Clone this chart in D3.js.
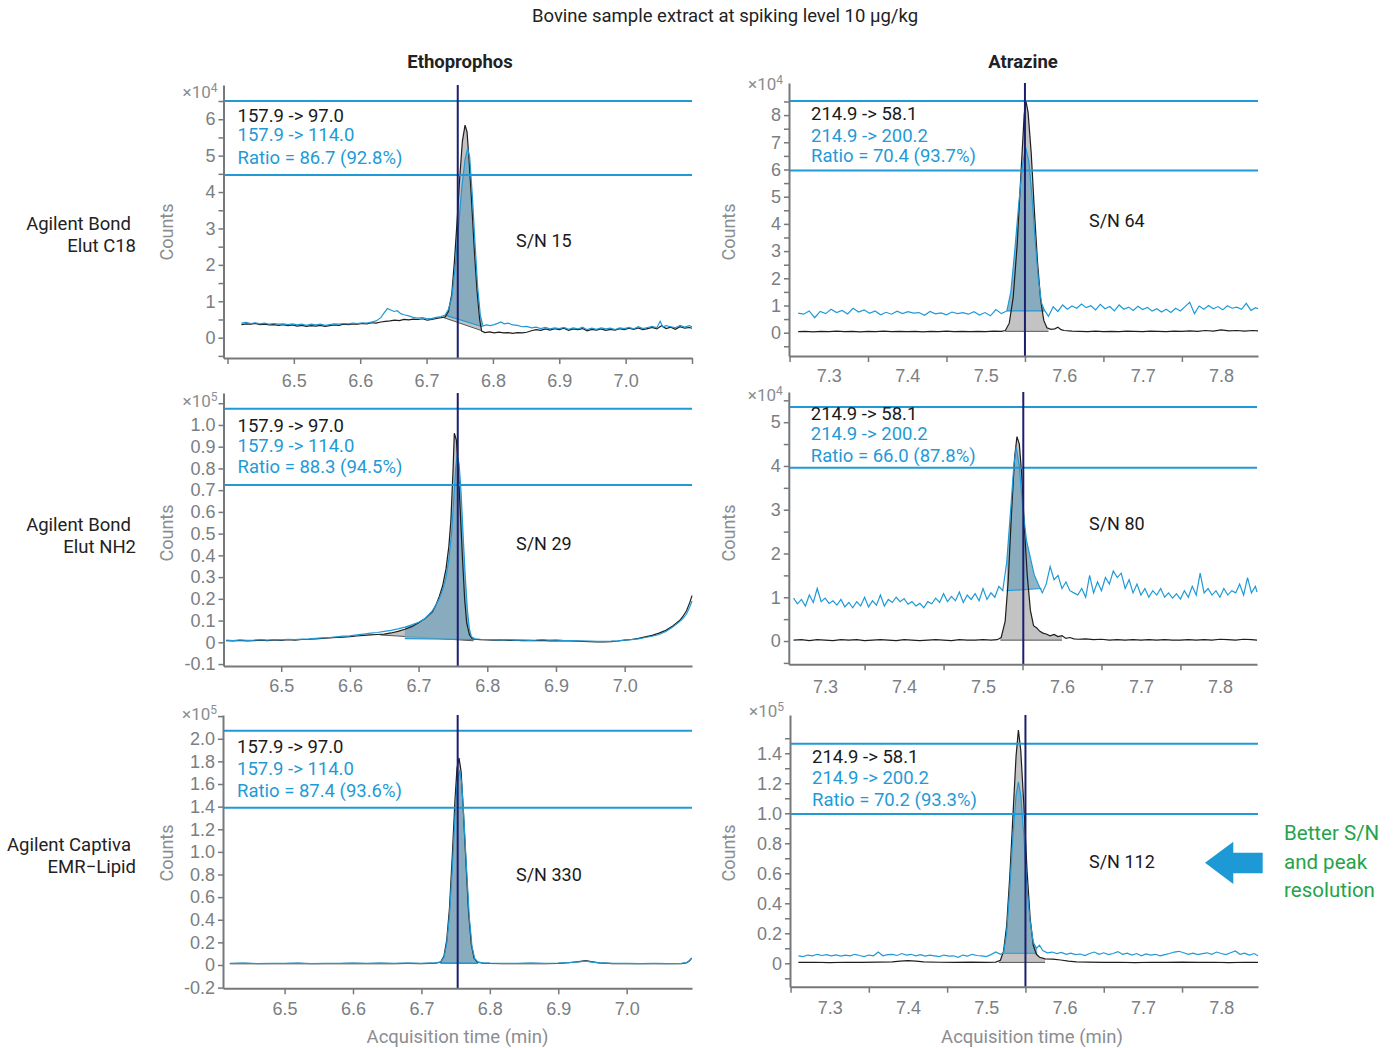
<!DOCTYPE html>
<html>
<head>
<meta charset="utf-8">
<script src="https://cdn.jsdelivr.net/npm/d3@7"></script>
<style>
  body { margin: 0; background: #fff; }
  svg { font-family: Roboto, "Noto Sans", sans-serif; }
  .tick text { fill: #7b7e82; font-size: 18px; }
</style>
</head>
<body>
<svg id="chart" width="1393" height="1048"></svg>
<script>
// ---------- text ----------
const chartTitle = "Bovine sample extract at spiking level 10 \u00b5g/kg";
const compounds = ["Ethoprophos", "Atrazine"];
const rowLabels = [["Agilent Bond", "Elut C18"], ["Agilent Bond", "Elut NH2"], ["Agilent Captiva", "EMR\u2212Lipid"]];
const ethoTransitions = ["157.9 -> 97.0", "157.9 -> 114.0"];
const atraTransitions = ["214.9 -> 58.1", "214.9 -> 200.2"];
const ratioLabels = ["Ratio = 86.7 (92.8%)", "Ratio = 70.4 (93.7%)", "Ratio = 88.3 (94.5%)",
                     "Ratio = 66.0 (87.8%)", "Ratio = 87.4 (93.6%)", "Ratio = 70.2 (93.3%)"];
const snLabels = ["S/N 15", "S/N 64", "S/N 29", "S/N 80", "S/N 330", "S/N 112"];
const exponents = [4, 4, 5, 4, 5, 5];
const noteLines = ["Better S/N", "and peak", "resolution"];

// ---------- ticks ----------
const ethoXLabels = [6.5, 6.6, 6.7, 6.8, 6.9, 7.0];
const ethoXMarks = [6.4, 6.5, 6.6, 6.7, 6.8, 6.9, 7.0, 7.1];
const atraXLabels = [7.3, 7.4, 7.5, 7.6, 7.7, 7.8];
const atraXMarks = [7.25, 7.35, 7.45, 7.55, 7.65, 7.75, 7.85];
const yMajor = [
  [0, 1, 2, 3, 4, 5, 6],
  [0, 1, 2, 3, 4, 5, 6, 7, 8],
  [-0.1, 0, 0.1, 0.2, 0.3, 0.4, 0.5, 0.6, 0.7, 0.8, 0.9, 1.0],
  [0, 1, 2, 3, 4, 5],
  [-0.2, 0, 0.2, 0.4, 0.6, 0.8, 1.0, 1.2, 1.4, 1.6, 1.8, 2.0],
  [0, 0.2, 0.4, 0.6, 0.8, 1.0, 1.2, 1.4]
];
const yMinor = [
  [-0.5, 0.5, 1.5, 2.5, 3.5, 4.5, 5.5, 6.5],
  [-0.5, 0.5, 1.5, 2.5, 3.5, 4.5, 5.5, 6.5, 7.5, 8.5],
  [1.1],
  [-0.5, 0.5, 1.5, 2.5, 3.5, 4.5, 5.5],
  [2.2],
  [-0.1, 0.1, 0.3, 0.5, 0.7, 0.9, 1.1, 1.3, 1.5]
];

// ---------- retention times and label band levels ----------
const retentionTimes = [6.747, 7.55, 6.757, 7.551, 6.753, 7.55];
const bandLevels = [[6.5, 4.47], [8.52, 5.96], [1.074, 0.724], [5.35, 3.96], [2.07, 1.39], [1.464, 0.995]];

// ---------- traces: [time (min), counts x10^n] ----------
// Ethoprophos / Bond Elut C18
const ethoC18Quant = [[6.421,0.36],[6.428,0.38],[6.435,0.37],[6.442,0.39],[6.449,0.36],[6.456,0.37],[6.463,0.35],[6.47,0.36],[6.477,0.34],[6.484,0.36],[6.491,0.33],[6.498,0.35],[6.505,0.32],[6.512,0.34],[6.519,0.31],[6.526,0.33],[6.533,0.32],[6.54,0.34],[6.547,0.31],[6.554,0.33],[6.561,0.35],[6.568,0.34],[6.575,0.37],[6.582,0.36],[6.589,0.38],[6.596,0.37],[6.603,0.39],[6.61,0.38],[6.617,0.41],[6.624,0.4],[6.631,0.43],[6.638,0.45],[6.645,0.46],[6.652,0.48],[6.659,0.47],[6.666,0.5],[6.673,0.49],[6.68,0.51],[6.687,0.5],[6.694,0.52],[6.701,0.48],[6.708,0.5],[6.715,0.53],[6.722,0.55],[6.728,0.57],[6.733,0.72],[6.738,1.2],[6.742,2.1],[6.746,3.2],[6.75,4.4],[6.754,5.4],[6.758,5.84],[6.761,5.65],[6.764,4.9],[6.768,3.7],[6.772,2.4],[6.776,1.3],[6.78,0.5],[6.783,0.18],[6.788,0.14],[6.795,0.16],[6.802,0.13],[6.809,0.15],[6.816,0.13],[6.823,0.14],[6.83,0.12],[6.837,0.14],[6.844,0.13],[6.851,0.15],[6.858,0.19],[6.865,0.22],[6.872,0.2],[6.879,0.24],[6.886,0.21],[6.893,0.25],[6.9,0.22],[6.907,0.26],[6.914,0.2],[6.921,0.24],[6.928,0.22],[6.935,0.25],[6.942,0.19],[6.949,0.23],[6.956,0.21],[6.963,0.24],[6.97,0.2],[6.977,0.23],[6.984,0.21],[6.991,0.25],[6.998,0.22],[7.005,0.26],[7.012,0.23],[7.019,0.27],[7.026,0.22],[7.033,0.25],[7.04,0.28],[7.047,0.24],[7.054,0.33],[7.061,0.25],[7.068,0.29],[7.075,0.23],[7.082,0.3],[7.089,0.26],[7.096,0.28],[7.1,0.26]];
const ethoC18Qual = [[6.421,0.4],[6.428,0.42],[6.435,0.39],[6.442,0.41],[6.449,0.38],[6.456,0.4],[6.463,0.37],[6.47,0.39],[6.477,0.37],[6.484,0.38],[6.491,0.36],[6.498,0.38],[6.505,0.35],[6.512,0.37],[6.519,0.34],[6.526,0.37],[6.533,0.35],[6.54,0.37],[6.547,0.34],[6.554,0.36],[6.561,0.38],[6.568,0.37],[6.575,0.39],[6.582,0.38],[6.589,0.4],[6.596,0.39],[6.603,0.41],[6.61,0.4],[6.617,0.43],[6.624,0.46],[6.631,0.55],[6.636,0.68],[6.641,0.8],[6.646,0.76],[6.651,0.72],[6.656,0.74],[6.661,0.66],[6.666,0.63],[6.673,0.6],[6.68,0.56],[6.687,0.54],[6.694,0.55],[6.701,0.52],[6.708,0.53],[6.715,0.56],[6.722,0.58],[6.728,0.62],[6.733,0.78],[6.738,1.1],[6.743,1.9],[6.748,3.0],[6.753,4.1],[6.758,4.9],[6.762,5.2],[6.765,4.95],[6.769,3.9],[6.773,2.6],[6.777,1.4],[6.781,0.62],[6.785,0.32],[6.79,0.35],[6.796,0.33],[6.802,0.36],[6.808,0.4],[6.812,0.43],[6.817,0.38],[6.823,0.4],[6.83,0.35],[6.837,0.34],[6.844,0.3],[6.851,0.31],[6.858,0.27],[6.865,0.29],[6.872,0.25],[6.879,0.28],[6.886,0.24],[6.893,0.27],[6.9,0.25],[6.907,0.28],[6.914,0.23],[6.921,0.27],[6.928,0.24],[6.935,0.29],[6.942,0.22],[6.949,0.26],[6.956,0.23],[6.963,0.27],[6.97,0.24],[6.977,0.26],[6.984,0.22],[6.991,0.27],[6.998,0.25],[7.005,0.28],[7.012,0.24],[7.019,0.3],[7.026,0.25],[7.033,0.28],[7.04,0.31],[7.047,0.27],[7.052,0.45],[7.056,0.3],[7.061,0.33],[7.068,0.3],[7.075,0.27],[7.082,0.34],[7.089,0.29],[7.096,0.33],[7.1,0.3]];
const ethoC18QuantBase = [[6.726, 0.55], [6.782, 0.2]];
const ethoC18QualBase = [[6.728, 0.62], [6.784, 0.3]];

// Atrazine / Bond Elut C18
const atraC18Quant = [[7.261,0.04],[7.27,0.05],[7.28,0.03],[7.29,0.05],[7.3,0.04],[7.31,0.06],[7.32,0.04],[7.33,0.05],[7.34,0.03],[7.35,0.05],[7.36,0.04],[7.37,0.06],[7.38,0.04],[7.39,0.05],[7.4,0.04],[7.41,0.05],[7.42,0.03],[7.43,0.05],[7.44,0.04],[7.45,0.06],[7.46,0.04],[7.47,0.05],[7.48,0.04],[7.49,0.05],[7.5,0.04],[7.51,0.06],[7.52,0.05],[7.525,0.08],[7.53,0.35],[7.535,1.3],[7.54,3.2],[7.545,5.9],[7.549,8.0],[7.551,8.55],[7.554,8.1],[7.558,6.6],[7.562,4.5],[7.566,2.6],[7.57,1.2],[7.574,0.45],[7.578,0.18],[7.583,0.12],[7.588,0.14],[7.592,0.2],[7.596,0.11],[7.6,0.08],[7.61,0.06],[7.62,0.05],[7.63,0.04],[7.64,0.06],[7.65,0.04],[7.66,0.05],[7.67,0.04],[7.68,0.06],[7.69,0.05],[7.7,0.04],[7.71,0.06],[7.72,0.05],[7.73,0.04],[7.74,0.06],[7.75,0.05],[7.76,0.07],[7.77,0.05],[7.78,0.08],[7.79,0.06],[7.8,0.1],[7.81,0.07],[7.82,0.08],[7.83,0.06],[7.84,0.08],[7.847,0.07]];
const atraC18Qual = [[7.261,0.72],[7.268,0.68],[7.275,0.8],[7.282,0.55],[7.289,0.78],[7.296,0.7],[7.303,0.86],[7.31,0.74],[7.317,0.82],[7.324,0.69],[7.331,0.9],[7.338,0.76],[7.345,0.84],[7.352,0.71],[7.359,0.8],[7.366,0.66],[7.373,0.75],[7.38,0.68],[7.387,0.79],[7.394,0.7],[7.401,0.77],[7.408,0.72],[7.415,0.74],[7.422,0.64],[7.429,0.78],[7.436,0.69],[7.443,0.73],[7.45,0.66],[7.457,0.76],[7.464,0.7],[7.471,0.74],[7.478,0.68],[7.485,0.77],[7.492,0.65],[7.499,0.74],[7.506,0.62],[7.513,0.85],[7.52,0.7],[7.527,0.8],[7.532,1.5],[7.537,3.0],[7.542,4.7],[7.547,6.2],[7.551,6.8],[7.555,6.3],[7.559,5.0],[7.563,3.4],[7.567,2.0],[7.571,1.1],[7.575,0.82],[7.58,0.6],[7.586,0.95],[7.592,0.78],[7.598,1.02],[7.604,0.86],[7.61,0.98],[7.616,0.9],[7.622,1.05],[7.628,0.92],[7.634,0.99],[7.64,0.84],[7.646,1.04],[7.652,0.88],[7.658,0.96],[7.664,0.8],[7.67,1.02],[7.676,0.86],[7.682,0.94],[7.688,0.82],[7.694,0.97],[7.7,0.85],[7.706,0.93],[7.712,0.8],[7.718,0.88],[7.724,0.76],[7.73,0.86],[7.736,0.74],[7.742,0.9],[7.748,0.8],[7.754,0.96],[7.76,1.12],[7.766,0.7],[7.772,0.98],[7.778,0.86],[7.784,1.0],[7.79,0.88],[7.796,0.96],[7.802,0.84],[7.808,0.99],[7.814,0.9],[7.82,0.94],[7.826,0.86],[7.832,1.08],[7.838,0.82],[7.844,0.92],[7.847,0.88]];
const atraC18QuantBase = [[7.525, 0.05], [7.58, 0.05]];
const atraC18QualBase = [[7.527, 0.8], [7.575, 0.8]];

// Ethoprophos / Bond Elut NH2
const ethoNH2Quant = [[6.42,0.008],[6.43,0.006],[6.44,0.009],[6.45,0.007],[6.46,0.008],[6.47,0.01],[6.48,0.008],[6.49,0.011],[6.5,0.009],[6.51,0.012],[6.52,0.01],[6.53,0.013],[6.54,0.014],[6.55,0.016],[6.56,0.018],[6.57,0.02],[6.58,0.022],[6.59,0.024],[6.6,0.026],[6.61,0.029],[6.62,0.032],[6.63,0.034],[6.64,0.036],[6.65,0.038],[6.66,0.043],[6.67,0.05],[6.68,0.06],[6.69,0.072],[6.7,0.09],[6.705,0.1],[6.71,0.11],[6.715,0.125],[6.72,0.14],[6.725,0.17],[6.73,0.21],[6.735,0.26],[6.74,0.34],[6.744,0.44],[6.747,0.56],[6.75,0.78],[6.752,0.962],[6.755,0.93],[6.758,0.78],[6.761,0.58],[6.764,0.38],[6.767,0.2],[6.77,0.09],[6.774,0.035],[6.778,0.016],[6.785,0.013],[6.79,0.012],[6.8,0.011],[6.81,0.01],[6.82,0.011],[6.83,0.009],[6.84,0.01],[6.85,0.008],[6.86,0.009],[6.87,0.008],[6.88,0.009],[6.89,0.007],[6.9,0.008],[6.91,0.006],[6.92,0.006],[6.93,0.005],[6.94,0.004],[6.95,0.003],[6.96,0.002],[6.97,0.002],[6.98,0.003],[6.99,0.006],[7.0,0.01],[7.01,0.013],[7.02,0.018],[7.03,0.025],[7.04,0.032],[7.05,0.042],[7.06,0.055],[7.07,0.075],[7.08,0.1],[7.085,0.12],[7.09,0.145],[7.095,0.185],[7.098,0.215]];
const ethoNH2Qual = [[6.42,0.01],[6.43,0.008],[6.44,0.011],[6.45,0.009],[6.46,0.01],[6.47,0.012],[6.48,0.01],[6.49,0.013],[6.5,0.011],[6.51,0.014],[6.52,0.012],[6.53,0.015],[6.54,0.016],[6.55,0.018],[6.56,0.02],[6.57,0.022],[6.58,0.025],[6.59,0.028],[6.6,0.03],[6.61,0.034],[6.62,0.038],[6.63,0.042],[6.64,0.045],[6.65,0.05],[6.66,0.055],[6.67,0.062],[6.68,0.07],[6.69,0.08],[6.7,0.092],[6.705,0.1],[6.71,0.112],[6.715,0.128],[6.72,0.145],[6.725,0.17],[6.73,0.2],[6.735,0.24],[6.74,0.3],[6.744,0.38],[6.748,0.5],[6.751,0.65],[6.754,0.8],[6.756,0.862],[6.759,0.82],[6.762,0.68],[6.765,0.48],[6.768,0.3],[6.771,0.15],[6.774,0.06],[6.777,0.025],[6.782,0.016],[6.79,0.014],[6.8,0.013],[6.81,0.012],[6.82,0.011],[6.83,0.012],[6.84,0.01],[6.85,0.011],[6.86,0.009],[6.87,0.01],[6.88,0.012],[6.89,0.01],[6.9,0.011],[6.91,0.009],[6.92,0.008],[6.93,0.007],[6.94,0.006],[6.95,0.005],[6.96,0.004],[6.97,0.004],[6.98,0.005],[6.99,0.007],[7.0,0.01],[7.01,0.012],[7.02,0.016],[7.03,0.022],[7.04,0.028],[7.05,0.036],[7.06,0.05],[7.07,0.07],[7.08,0.095],[7.085,0.11],[7.09,0.13],[7.095,0.165],[7.098,0.19]];
const ethoNH2QuantBase = [[6.644, 0.034], [6.78, 0.007]];
const ethoNH2QualBase = [[6.68, 0.017], [6.777, 0.013]];

// Atrazine / Bond Elut NH2
const atraNH2Quant = [[7.26,0.02],[7.27,0.03],[7.28,0.01],[7.29,0.03],[7.3,0.02],[7.31,0.01],[7.32,0.03],[7.33,0.02],[7.34,0.03],[7.35,0.01],[7.36,0.02],[7.37,0.03],[7.38,0.02],[7.39,0.01],[7.4,0.03],[7.41,0.02],[7.42,0.01],[7.43,0.02],[7.44,0.03],[7.45,0.02],[7.46,0.01],[7.47,0.03],[7.48,0.02],[7.49,0.02],[7.5,0.03],[7.51,0.02],[7.518,0.03],[7.523,0.08],[7.528,0.45],[7.532,1.4],[7.536,2.9],[7.54,4.2],[7.543,4.67],[7.546,4.5],[7.549,3.8],[7.552,2.7],[7.556,1.5],[7.56,0.7],[7.564,0.35],[7.568,0.3],[7.572,0.22],[7.576,0.18],[7.58,0.16],[7.585,0.12],[7.59,0.15],[7.595,0.1],[7.6,0.12],[7.605,0.06],[7.61,0.08],[7.615,0.05],[7.62,0.04],[7.63,0.05],[7.64,0.03],[7.65,0.04],[7.66,0.02],[7.67,0.03],[7.68,0.02],[7.69,0.03],[7.7,0.02],[7.71,0.03],[7.72,0.02],[7.73,0.03],[7.74,0.02],[7.75,0.02],[7.76,0.03],[7.77,0.02],[7.78,0.03],[7.79,0.02],[7.8,0.04],[7.81,0.03],[7.82,0.02],[7.83,0.04],[7.84,0.03],[7.847,0.02]];
const atraNH2Qual = [[7.26,0.98],[7.265,0.85],[7.27,0.95],[7.275,0.8],[7.28,1.05],[7.285,0.88],[7.29,1.2],[7.295,0.9],[7.3,0.98],[7.305,0.86],[7.31,0.92],[7.315,0.82],[7.32,0.95],[7.325,0.78],[7.33,0.88],[7.335,0.76],[7.34,0.9],[7.345,0.8],[7.35,1.0],[7.355,0.78],[7.36,0.92],[7.365,0.82],[7.37,1.05],[7.375,0.8],[7.38,0.95],[7.385,0.88],[7.39,1.0],[7.395,0.9],[7.4,0.97],[7.405,0.84],[7.41,0.9],[7.415,0.8],[7.42,0.86],[7.425,0.76],[7.43,0.9],[7.435,0.85],[7.44,0.98],[7.445,0.88],[7.45,1.08],[7.455,0.9],[7.46,1.02],[7.465,0.92],[7.47,1.12],[7.475,0.88],[7.48,1.05],[7.485,0.95],[7.49,1.08],[7.495,0.92],[7.5,1.2],[7.505,0.95],[7.51,1.1],[7.515,1.0],[7.52,1.25],[7.525,1.15],[7.53,1.8],[7.535,3.0],[7.539,4.0],[7.542,4.43],[7.546,4.0],[7.55,3.1],[7.555,2.3],[7.56,1.9],[7.565,1.5],[7.57,1.3],[7.575,1.1],[7.58,1.3],[7.585,1.7],[7.59,1.4],[7.595,1.5],[7.6,1.2],[7.605,1.35],[7.61,1.15],[7.615,1.1],[7.62,1.05],[7.625,1.2],[7.63,1.0],[7.635,1.5],[7.64,1.1],[7.645,1.35],[7.65,1.15],[7.655,1.45],[7.66,1.3],[7.665,1.6],[7.67,1.45],[7.675,1.55],[7.68,1.2],[7.685,1.4],[7.69,1.1],[7.695,1.3],[7.7,1.05],[7.705,1.2],[7.71,1.0],[7.715,1.15],[7.72,1.05],[7.725,1.2],[7.73,1.0],[7.735,1.1],[7.74,0.98],[7.745,1.08],[7.75,0.96],[7.755,1.15],[7.76,1.0],[7.765,1.25],[7.77,1.05],[7.775,1.55],[7.78,1.1],[7.785,1.2],[7.79,1.05],[7.795,1.15],[7.8,1.0],[7.805,1.2],[7.81,1.05],[7.815,1.15],[7.82,1.1],[7.825,1.3],[7.83,1.05],[7.835,1.45],[7.84,1.1],[7.845,1.25],[7.847,1.12]];
const atraNH2QuantBase = [[7.522, 0.02], [7.6, 0.02]];
const atraNH2QualBase = [[7.53, 1.15], [7.574, 1.2]];

// Ethoprophos / Captiva EMR-Lipid
const ethoEMRQuant = [[6.42,0.012],[6.44,0.014],[6.46,0.011],[6.48,0.013],[6.5,0.012],[6.52,0.014],[6.54,0.011],[6.56,0.013],[6.58,0.012],[6.6,0.014],[6.62,0.012],[6.64,0.015],[6.66,0.013],[6.68,0.014],[6.7,0.013],[6.71,0.015],[6.72,0.016],[6.728,0.025],[6.733,0.08],[6.737,0.22],[6.741,0.5],[6.745,0.95],[6.749,1.45],[6.752,1.74],[6.755,1.83],[6.758,1.71],[6.761,1.4],[6.765,0.92],[6.769,0.46],[6.773,0.18],[6.777,0.06],[6.782,0.025],[6.79,0.016],[6.8,0.014],[6.82,0.013],[6.84,0.012],[6.86,0.014],[6.88,0.013],[6.9,0.015],[6.915,0.02],[6.93,0.03],[6.94,0.038],[6.95,0.028],[6.96,0.018],[6.98,0.013],[7.0,0.012],[7.02,0.011],[7.04,0.012],[7.06,0.011],[7.08,0.013],[7.088,0.02],[7.092,0.038],[7.095,0.06]];
const ethoEMRQual = [[6.42,0.014],[6.44,0.016],[6.46,0.013],[6.48,0.015],[6.5,0.014],[6.52,0.016],[6.54,0.013],[6.56,0.015],[6.58,0.014],[6.6,0.016],[6.62,0.014],[6.64,0.017],[6.66,0.015],[6.68,0.016],[6.7,0.015],[6.71,0.017],[6.72,0.018],[6.728,0.026],[6.733,0.07],[6.737,0.19],[6.741,0.44],[6.745,0.84],[6.749,1.3],[6.752,1.6],[6.756,1.72],[6.759,1.6],[6.762,1.3],[6.766,0.85],[6.77,0.42],[6.774,0.16],[6.778,0.055],[6.783,0.025],[6.79,0.018],[6.8,0.016],[6.82,0.015],[6.84,0.014],[6.86,0.016],[6.88,0.015],[6.9,0.017],[6.915,0.021],[6.93,0.028],[6.94,0.034],[6.95,0.026],[6.96,0.018],[6.98,0.015],[7.0,0.014],[7.02,0.013],[7.04,0.014],[7.06,0.013],[7.08,0.015],[7.088,0.022],[7.092,0.04],[7.095,0.062]];
const ethoEMRQuantBase = [[6.728, 0.016], [6.782, 0.015]];
const ethoEMRQualBase = [[6.728, 0.018], [6.783, 0.016]];

// Atrazine / Captiva EMR-Lipid
const atraEMRQuant = [[7.26,0.006],[7.28,0.007],[7.3,0.005],[7.32,0.007],[7.34,0.006],[7.36,0.008],[7.38,0.01],[7.39,0.014],[7.4,0.018],[7.41,0.014],[7.42,0.009],[7.44,0.007],[7.46,0.006],[7.48,0.008],[7.5,0.006],[7.512,0.008],[7.518,0.02],[7.522,0.08],[7.526,0.25],[7.53,0.58],[7.534,0.98],[7.538,1.38],[7.541,1.555],[7.544,1.42],[7.548,1.05],[7.552,0.62],[7.556,0.3],[7.56,0.12],[7.564,0.06],[7.568,0.04],[7.575,0.03],[7.585,0.028],[7.595,0.022],[7.605,0.015],[7.615,0.01],[7.63,0.008],[7.65,0.006],[7.67,0.007],[7.69,0.005],[7.71,0.007],[7.73,0.006],[7.75,0.008],[7.77,0.006],[7.79,0.007],[7.81,0.005],[7.83,0.007],[7.847,0.006]];
const atraEMRQual = [[7.26,0.05],[7.266,0.045],[7.272,0.055],[7.278,0.05],[7.284,0.06],[7.29,0.052],[7.296,0.058],[7.302,0.05],[7.308,0.056],[7.314,0.048],[7.32,0.055],[7.326,0.05],[7.332,0.06],[7.338,0.052],[7.344,0.045],[7.35,0.055],[7.356,0.05],[7.362,0.075],[7.368,0.05],[7.374,0.058],[7.38,0.06],[7.386,0.052],[7.392,0.065],[7.398,0.055],[7.404,0.06],[7.41,0.05],[7.416,0.058],[7.422,0.048],[7.428,0.055],[7.434,0.05],[7.44,0.045],[7.446,0.055],[7.452,0.048],[7.458,0.05],[7.464,0.04],[7.47,0.055],[7.476,0.048],[7.482,0.06],[7.488,0.052],[7.494,0.05],[7.5,0.045],[7.506,0.058],[7.512,0.075],[7.518,0.06],[7.522,0.07],[7.526,0.2],[7.53,0.5],[7.534,0.85],[7.538,1.12],[7.541,1.21],[7.544,1.12],[7.548,0.85],[7.552,0.5],[7.556,0.28],[7.56,0.14],[7.564,0.1],[7.568,0.12],[7.572,0.085],[7.578,0.07],[7.584,0.075],[7.59,0.065],[7.596,0.072],[7.602,0.06],[7.608,0.068],[7.614,0.058],[7.62,0.062],[7.626,0.052],[7.632,0.065],[7.638,0.075],[7.644,0.06],[7.65,0.07],[7.656,0.058],[7.662,0.065],[7.668,0.078],[7.674,0.06],[7.68,0.068],[7.686,0.055],[7.692,0.065],[7.698,0.05],[7.704,0.062],[7.71,0.055],[7.716,0.06],[7.722,0.05],[7.728,0.058],[7.734,0.065],[7.74,0.075],[7.746,0.08],[7.752,0.07],[7.758,0.06],[7.764,0.068],[7.77,0.058],[7.776,0.065],[7.782,0.07],[7.788,0.06],[7.794,0.075],[7.8,0.065],[7.806,0.058],[7.812,0.07],[7.818,0.082],[7.824,0.06],[7.83,0.068],[7.836,0.055],[7.842,0.065],[7.847,0.05]];
const atraEMRQuantBase = [[7.516, 0.006], [7.575, 0.006]];
const atraEMRQualBase = [[7.522, 0.067], [7.565, 0.067]];

// ---------- layout (pixels) ----------
const frames = [
  { x0: 223.5, x1: 692, y0: 85,  y1: 358,   xd: [6.394, 7.1],   yd: [-0.558, 6.94] },
  { x0: 789,   x1: 1258, y0: 83, y1: 356,   xd: [7.2493, 7.847], yd: [-0.857, 9.18] },
  { x0: 223.5, x1: 692, y0: 393, y1: 666,   xd: [6.416, 7.098], yd: [-0.109, 1.147] },
  { x0: 788.8, x1: 1257, y0: 392, y1: 664.3, xd: [7.254, 7.847], yd: [-0.532, 5.69] },
  { x0: 223,   x1: 692, y0: 715, y1: 988.3, xd: [6.41, 7.0955], yd: [-0.206, 2.21] },
  { x0: 790,   x1: 1258, y0: 715, y1: 986.7, xd: [7.2493, 7.847], yd: [-0.156, 1.655] }
];
const textBaselines = [[121.5, 141, 164.3], [120, 141.7, 161.7], [431.7, 452.3, 472.7],
                       [419.5, 440, 461.7], [752.7, 775, 796.7], [762.7, 784.3, 806]];
const snY = [240.7, 220.7, 543.3, 523.3, 875, 861.7];
const expY = [92, 84, 401, 395, 714, 711];
const xLabelDy = [23, 20, 20, 22, 20, 21];
const rowCenters = [232, 533, 853];

const panels = [
  { quant: ethoC18Quant, qual: ethoC18Qual, qb: ethoC18QuantBase, lb: ethoC18QualBase },
  { quant: atraC18Quant, qual: atraC18Qual, qb: atraC18QuantBase, lb: atraC18QualBase },
  { quant: ethoNH2Quant, qual: ethoNH2Qual, qb: ethoNH2QuantBase, lb: ethoNH2QualBase },
  { quant: atraNH2Quant, qual: atraNH2Qual, qb: atraNH2QuantBase, lb: atraNH2QualBase },
  { quant: ethoEMRQuant, qual: ethoEMRQual, qb: ethoEMRQuantBase, lb: ethoEMRQualBase },
  { quant: atraEMRQuant, qual: atraEMRQual, qb: atraEMRQuantBase, lb: atraEMRQualBase }
];

const BLUE = "#1f9ad6", NAVY = "#1c1f6e", AXIS = "#76797c", GREYTXT = "#8a8d91";
const svg = d3.select("#chart");

// value of a trace at time t (for closing the fill at the integration limits)
function valueAt(trace, t) {
  const i = d3.bisector(d => d[0]).left(trace, t);
  if (i <= 0) return trace[0][1];
  if (i >= trace.length) return trace[trace.length - 1][1];
  const a = trace[i - 1], b = trace[i];
  return a[1] + (b[1] - a[1]) * (t - a[0]) / (b[0] - a[0]);
}

function peakArea(trace, base, x, y) {
  const [[t0, v0], [t1, v1]] = base;
  const baseAt = t => v0 + (v1 - v0) * (t - t0) / (t1 - t0);
  const pts = [[t0, valueAt(trace, t0)]]
    .concat(trace.filter(d => d[0] > t0 && d[0] < t1))
    .concat([[t1, valueAt(trace, t1)]]);
  return d3.area().x(d => x(d[0])).y0(d => y(baseAt(d[0]))).y1(d => y(d[1]))(pts);
}

function tickFmt(i) {
  if (i === 0 || i === 1 || i === 3) return d => String(d);
  return d => d === 0 ? "0" : d.toFixed(1);
}

panels.forEach((p, i) => {
  const f = frames[i];
  const left = i % 2 === 0;
  const x = d3.scaleLinear().domain(f.xd).range([f.x0, f.x1]);
  const y = d3.scaleLinear().domain(f.yd).range([f.y1, f.y0]);
  const line = d3.line().x(d => x(d[0])).y(d => y(d[1]));
  const g = svg.append("g");

  // integrated peak areas
  g.append("path").attr("d", peakArea(p.quant, p.qb, x, y)).attr("fill", "#c3c3c3");
  g.append("line")
    .attr("x1", x(p.qb[0][0])).attr("y1", y(p.qb[0][1]))
    .attr("x2", x(p.qb[1][0])).attr("y2", y(p.qb[1][1]))
    .attr("stroke", "#555").attr("stroke-width", 1);
  g.append("path").attr("d", peakArea(p.qual, p.lb, x, y))
    .attr("fill", "#7ea8bd").attr("fill-opacity", 0.85);
  g.append("line")
    .attr("x1", x(p.lb[0][0])).attr("y1", y(p.lb[0][1]))
    .attr("x2", x(p.lb[1][0])).attr("y2", y(p.lb[1][1]))
    .attr("stroke", BLUE).attr("stroke-width", 1.2);

  // traces
  g.append("path").datum(p.quant).attr("d", line)
    .attr("fill", "none").attr("stroke", "#1e1e1e").attr("stroke-width", 1.2);
  g.append("path").datum(p.qual).attr("d", line)
    .attr("fill", "none").attr("stroke", BLUE).attr("stroke-width", 1.2);

  // label band lines
  bandLevels[i].forEach(v => {
    g.append("line").attr("x1", f.x0).attr("x2", f.x1)
      .attr("y1", y(v)).attr("y2", y(v))
      .attr("stroke", BLUE).attr("stroke-width", 2);
  });

  // retention time marker
  g.append("line")
    .attr("x1", x(retentionTimes[i])).attr("x2", x(retentionTimes[i]))
    .attr("y1", f.y0).attr("y2", f.y1)
    .attr("stroke", NAVY).attr("stroke-width", 2);

  // x axis: tick marks and labels
  const marks = (left ? ethoXMarks : atraXMarks).filter(t => t >= f.xd[0] - 1e-6 && t <= f.xd[1] + 1e-6);
  const xm = g.append("g").attr("transform", `translate(0,${f.y1})`)
    .call(d3.axisBottom(x).tickValues(marks).tickSize(6).tickSizeOuter(0).tickFormat(""));
  const xl = g.append("g").attr("transform", `translate(0,${f.y1})`)
    .call(d3.axisBottom(x).tickValues(left ? ethoXLabels : atraXLabels).tickSize(0).tickFormat(d3.format(".1f")));
  xl.select(".domain").remove();
  xl.selectAll(".tick text").attr("y", xLabelDy[i]).attr("dy", "0.35em");

  // y axis
  const yl = g.append("g").attr("transform", `translate(${f.x0},0)`)
    .call(d3.axisLeft(y).tickValues(yMajor[i]).tickSize(5).tickPadding(3).tickSizeOuter(0).tickFormat(tickFmt(i)));
  const ym = g.append("g").attr("transform", `translate(${f.x0},0)`)
    .call(d3.axisLeft(y).tickValues(yMinor[i]).tickSize(5).tickFormat(""));
  ym.select(".domain").remove();

  [xm, xl, yl, ym].forEach(a => {
    a.select(".domain").attr("stroke", AXIS).attr("stroke-width", 2);
    a.selectAll(".tick line").attr("stroke", AXIS).attr("stroke-width", 1.5);
  });

  // exponent label
  const ex = g.append("text").attr("x", f.x0 - 6).attr("y", expY[i]).attr("dy", "0.35em")
    .attr("text-anchor", "end").attr("fill", GREYTXT).attr("font-size", 17);
  ex.append("tspan").text("\u00d710");
  ex.append("tspan").attr("dy", -6).attr("font-size", 12).text(exponents[i]);

  // transitions, ratio, S/N
  const tr = left ? ethoTransitions : atraTransitions;
  const tx = left ? f.x0 + 14 : f.x0 + 22;
  [tr[0], tr[1], ratioLabels[i]].forEach((s, k) => {
    g.append("text").attr("x", tx).attr("y", textBaselines[i][k])
      .attr("font-size", 18.5).attr("fill", k === 0 ? "#1a1a1a" : BLUE).text(s);
  });
  g.append("text").attr("x", left ? 516 : 1089).attr("y", snY[i]).attr("dy", "0.35em")
    .attr("font-size", 18).attr("fill", "#1a1a1a").text(snLabels[i]);

  // Counts
  const cy = rowCenters[Math.floor(i / 2)];
  const cx = left ? 167 : 729;
  g.append("text").attr("transform", `translate(${cx},${cy}) rotate(-90)`)
    .attr("text-anchor", "middle").attr("dy", "0.35em")
    .attr("font-size", 18).attr("fill", GREYTXT).text("Counts");
});

// titles
svg.append("text").attr("x", 725).attr("y", 16).attr("dy", "0.35em").attr("text-anchor", "middle")
  .attr("font-size", 18.5).attr("fill", "#222").text(chartTitle);
[460, 1023].forEach((cx, k) => {
  svg.append("text").attr("x", cx).attr("y", 62).attr("dy", "0.35em").attr("text-anchor", "middle")
    .attr("font-size", 18.5).attr("font-weight", 700).attr("fill", "#222").text(compounds[k]);
});

// row labels
rowLabels.forEach((lines, r) => {
  const cy = rowCenters[r] + 3;
  svg.append("text").attr("x", 131).attr("y", cy - 5).attr("text-anchor", "end")
    .attr("font-size", 18.5).attr("fill", "#222").text(lines[0]);
  svg.append("text").attr("x", 136).attr("y", cy + 17).attr("text-anchor", "end")
    .attr("font-size", 18.5).attr("fill", "#222").text(lines[1]);
});

// x axis titles
[457.5, 1032].forEach(cx => {
  svg.append("text").attr("x", cx).attr("y", 1037).attr("dy", "0.35em").attr("text-anchor", "middle")
    .attr("font-size", 18.5).attr("fill", GREYTXT).text("Acquisition time (min)");
});

// arrow and note
svg.append("polygon")
  .attr("points", "1205,862.7 1233.3,841.7 1233.3,852.7 1262.7,852.7 1262.7,873.3 1233.3,873.3 1233.3,884")
  .attr("fill", "#1d9ad6");
noteLines.forEach((s, k) => {
  svg.append("text").attr("x", 1284).attr("y", 840 + k * 28.5)
    .attr("font-size", 20.5).attr("fill", "#25a349").text(s);
});
</script>
</body>
</html>
